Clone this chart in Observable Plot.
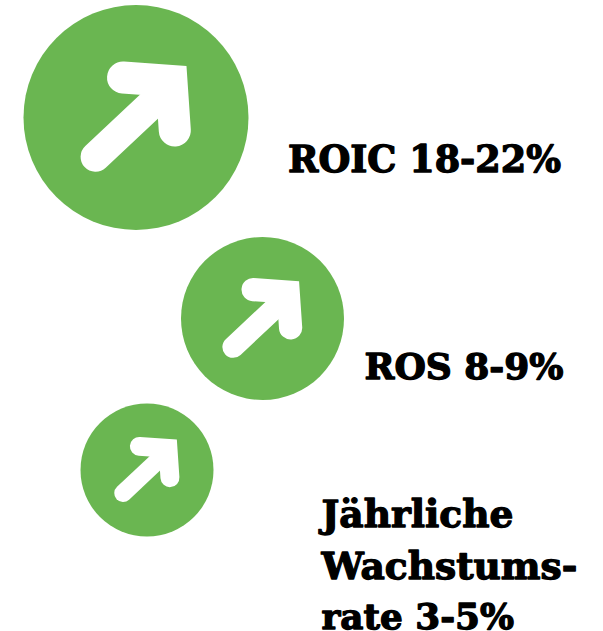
<!DOCTYPE html>
<html>
<head>
<meta charset="utf-8">
<script src="https://cdn.jsdelivr.net/npm/d3@7"></script>
<script src="https://cdn.jsdelivr.net/npm/@observablehq/plot@0.6"></script>
<style>html,body{margin:0;padding:0;background:#fff}svg{display:block}</style>
</head>
<body>
<div id="chart"></div>
<script>
const labels = ["ROIC 18-22%", "ROS 8-9%", "Jährliche", "Wachstums-", "rate 3-5%"];
const labelX = [287.5, 364, 321, 321, 321];
const labelY = [160, 367, 514, 566, 617];
const labelSize = [36.6, 36, 37.6, 37.6, 35.8];
const circleX = [135.5, 262, 146.5];
const circleY = [117, 318, 469.5];
const circleR = [112.5, 81.5, 66.5];
// arrow outline in units of the circle radius
const shaftDX = [-0.36, 0.13];
const shaftDY = [0.35, -0.11];
const headDX = [-0.115, 0.315, 0.345];
const headDY = [-0.355, -0.325, 0.115];
const green = "#6ab651";

const arrowMarks = circleX.flatMap((cx, i) => {
  const r = circleR[i];
  const pts = (dx, dy) => dx.map((d, k) => ({x: cx + d * r, y: circleY[i] + dy[k] * r}));
  return [
    Plot.line(pts(shaftDX, shaftDY), {x: "x", y: "y", stroke: "white", strokeWidth: r * 0.265, strokeLinecap: "round", curve: "linear"}),
    Plot.line(pts(headDX, headDY), {x: "x", y: "y", stroke: "white", strokeWidth: r * 0.285, strokeLinecap: "round", strokeLinejoin: "miter", strokeMiterlimit: 4, curve: "linear"})
  ];
});

const circles = circleX.map((x, i) => ({x, y: circleY[i], r: circleR[i]}));
const textMarks = labels.map((t, i) => Plot.text([{t, x: labelX[i], y: labelY[i]}], {x: "x", y: "y", text: "t", textAnchor: "start", lineAnchor: "middle", fontFamily: "DejaVu Serif", fontWeight: 700, fontSize: labelSize[i], fill: "black", stroke: "black", strokeWidth: 1.3}));

const plot = Plot.plot({
  width: 603,
  height: 631,
  margin: 0,
  x: {domain: [0, 603], range: [0, 603], axis: null},
  y: {domain: [0, 631], range: [0, 631], axis: null},
  r: {type: "identity"},
  marks: [
    Plot.dot(circles, {x: "x", y: "y", r: "r", fill: green, stroke: "none"}),
    ...arrowMarks,
    ...textMarks
  ]
});
document.getElementById("chart").append(plot);
</script>
</body>
</html>
